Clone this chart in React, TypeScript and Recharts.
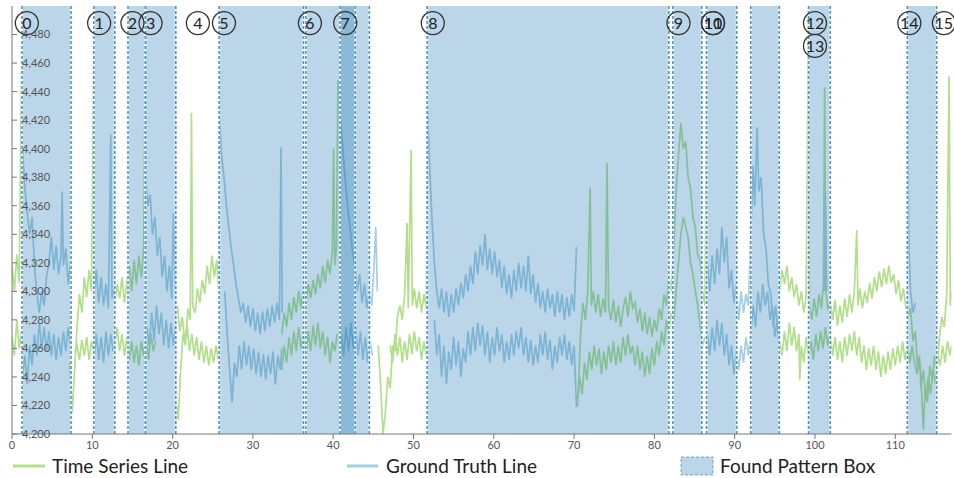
import React from 'react'
import { LineChart, Line, XAxis, YAxis, ReferenceArea, ReferenceDot } from 'recharts'

type Pt = [number, number | null]

// Time series (green) – upper and lower strands
const timeSeriesUpper: Pt[] = [
  [0, 4318], [0.3, 4300], [0.6, 4326], [0.9, 4306], [1.25, 4486], [1.3, null],
  [7.2, 4250], [7.5, 4215], [7.8, 4245], [8.1, 4275], [8.4, 4298], [8.7, 4285], [9, 4310], [9.3, 4296], [9.6, 4315], [9.9, 4300], [10.2, 4476], [10.3, null],
  [12.8, 4290], [13.1, 4305], [13.4, 4295], [13.7, 4310], [14, 4292], [14.3, 4306], [14.6, 4318], [14.9, 4300], [15.2, 4322], [15.5, 4305], [15.8, 4325], [16.1, 4310], [16.4, 4330], [16.6, 4452], [16.7, null],
  [20.4, 4225], [20.7, 4210], [21, 4245], [21.3, 4270], [21.6, 4262], [21.9, 4288], [22.2, 4280], [22.35, 4425], [22.5, 4290], [22.8, 4285], [23.1, 4302], [23.4, 4292], [23.7, 4308], [24, 4298], [24.3, 4318], [24.6, 4305], [24.9, 4325], [25.2, 4310], [25.5, 4322], [25.75, 4300], [25.85, 4455], [25.9, null],
  [33.6, 4270], [33.9, 4285], [34.2, 4275], [34.5, 4292], [34.8, 4280], [35.1, 4296], [35.4, 4285], [35.7, 4300], [36, 4288], [36.3, 4302], [36.6, 4290], [36.9, 4305], [37.2, 4295], [37.5, 4308], [37.8, 4298], [38.1, 4312], [38.4, 4302], [38.7, 4318], [39, 4306], [39.3, 4322], [39.6, 4312], [39.9, 4328], [40.05, 4400], [40.2, 4318], [40.4, 4330], [40.6, 4448], [40.7, null],
  [45.6, 4262], [45.9, 4235], [46.2, 4200], [46.5, 4215], [46.8, 4240], [47.1, 4232], [47.4, 4262], [47.7, 4258], [48, 4282], [48.3, 4290], [48.6, 4280], [48.9, 4298], [49.2, 4348], [49.35, 4288], [49.7, 4399], [49.85, 4290], [50.1, 4302], [50.4, 4288], [50.7, 4300], [51, 4285], [51.3, 4298], [51.6, 4288], [51.75, 4430], [51.8, null],
  [70.5, 4225], [70.8, 4270], [71.1, 4292], [71.4, 4280], [71.7, 4300], [72, 4373], [72.15, 4290], [72.4, 4300], [72.7, 4285], [73, 4298], [73.3, 4282], [73.6, 4295], [73.9, 4285], [74.1, 4390], [74.3, 4288], [74.6, 4280], [74.9, 4294], [75.2, 4278], [75.5, 4290], [75.8, 4275], [76.1, 4288], [76.4, 4296], [76.7, 4282], [77, 4300], [77.3, 4288], [77.6, 4292], [77.9, 4278], [78.2, 4288], [78.5, 4272], [78.8, 4285], [79.1, 4270], [79.4, 4282], [79.7, 4268], [80, 4280], [80.3, 4272], [80.6, 4288], [80.9, 4280], [81.2, 4298], [81.5, 4290], [81.8, 4310], [82.1, 4300], [82.4, 4330], [82.7, 4370], [83, 4395], [83.3, 4418], [83.6, 4400], [83.9, 4405], [84.2, 4380], [84.5, 4372], [84.8, 4352], [85.1, 4345], [85.4, 4325], [85.7, 4322], [86, 4300], [86.3, 4290], [86.5, 4444], [86.6, null],
  [95.6, 4300], [95.9, 4315], [96.2, 4305], [96.5, 4318], [96.8, 4300], [97.1, 4310], [97.4, 4296], [97.7, 4305], [98, 4290], [98.3, 4300], [98.6, 4285], [98.9, 4296], [99.2, 4499], [99.3, 4290], [99.6, 4280], [99.9, 4295], [100.2, 4282], [100.5, 4298], [100.8, 4288], [101.05, 4305], [101.2, 4443], [101.35, 4300], [101.6, 4288], [101.9, 4292],
  [102.2, 4280], [102.5, 4294], [102.8, 4276], [103.1, 4290], [103.4, 4278], [103.7, 4295], [104, 4282], [104.3, 4298], [104.6, 4285], [104.9, 4300], [105.2, 4343], [105.35, 4290], [105.6, 4302], [105.9, 4288], [106.2, 4300], [106.5, 4292], [106.8, 4306], [107.1, 4295], [107.4, 4310], [107.7, 4300], [108, 4314], [108.3, 4303], [108.6, 4316], [108.9, 4305], [109.2, 4318], [109.5, 4306], [109.8, 4312], [110.1, 4298], [110.4, 4308], [110.7, 4293], [111, 4302], [111.3, 4290],
  [111.6, 4282], [111.9, 4288], [112.2, 4265], [112.5, 4272], [112.8, 4245], [113.1, 4250], [113.5, 4203], [113.7, 4230], [114, 4222], [114.3, 4248], [114.6, 4238], [114.9, 4255], [115.2, 4245], [115.5, 4268], [115.8, 4282], [116.1, 4275], [116.4, 4298], [116.7, 4451], [116.85, 4290], [117, 4300],
]

const timeSeriesLower: Pt[] = [
  [0, 4268], [0.3, 4255], [0.6, 4280], [0.9, 4260], [1.2, 4272], [1.3, null],
  [7.8, 4258], [8.1, 4262], [8.4, 4252], [8.7, 4266], [9, 4255], [9.3, 4268], [9.6, 4252], [9.9, 4265], [10.15, 4258], [10.2, null],
  [12.8, 4262], [13.1, 4275], [13.4, 4258], [13.7, 4270], [14, 4255], [14.3, 4268], [14.6, 4252], [14.9, 4265], [15.2, 4250], [15.5, 4262], [15.8, 4248], [16.1, 4265], [16.4, 4255], [16.7, 4268], [17, 4252], [17.3, 4270], [17.6, 4258], [17.9, 4265], [18, null],
  [20.6, 4290], [20.9, 4272], [21.2, 4282], [21.5, 4265], [21.8, 4276], [22.1, 4258], [22.4, 4270], [22.7, 4255], [23, 4268], [23.3, 4252], [23.6, 4265], [23.9, 4250], [24.2, 4262], [24.5, 4248], [24.8, 4260], [25.1, 4250], [25.4, 4262], [25.7, 4252], [25.8, null],
  [33.6, 4245], [33.9, 4262], [34.2, 4250], [34.5, 4268], [34.8, 4255], [35.1, 4272], [35.4, 4258], [35.7, 4275], [36, 4260], [36.3, 4270], [36.6, 4255], [36.9, 4272], [37.2, 4258], [37.5, 4276], [37.8, 4262], [38.1, 4278], [38.4, 4260], [38.7, 4272], [39, 4255], [39.3, 4268], [39.6, 4250], [39.9, 4265], [40.2, 4258], [40.5, 4270], [40.6, null],
  [47.1, 4262], [47.4, 4250], [47.7, 4270], [48, 4255], [48.3, 4268], [48.6, 4250], [48.9, 4265], [49.2, 4252], [49.5, 4270], [49.8, 4256], [50.1, 4272], [50.4, 4258], [50.7, 4268], [51, 4252], [51.3, 4265], [51.6, 4255], [51.7, null],
  [70.4, 4219], [70.7, 4240], [71, 4228], [71.3, 4250], [71.6, 4238], [71.9, 4258], [72.2, 4245], [72.5, 4262], [72.8, 4248], [73.1, 4260], [73.4, 4242], [73.7, 4258], [74, 4245], [74.3, 4262], [74.6, 4250], [74.9, 4265], [75.2, 4248], [75.5, 4262], [75.8, 4250], [76.1, 4268], [76.4, 4255], [76.7, 4270], [77, 4256], [77.3, 4262], [77.6, 4248], [77.9, 4262], [78.2, 4245], [78.5, 4258], [78.8, 4240], [79.1, 4255], [79.4, 4242], [79.7, 4260], [80, 4248], [80.3, 4265], [80.6, 4255], [80.9, 4272], [81.2, 4262], [81.5, 4280], [81.8, 4270], [82.1, 4285], [82.4, 4280], [82.7, 4300], [83, 4320], [83.3, 4340], [83.6, 4352], [83.9, 4345], [84.2, 4338], [84.5, 4320], [84.8, 4312], [85.1, 4300], [85.4, 4290], [85.7, 4275], [86, 4262], [86.3, 4268], [86.4, null],
  [95.6, 4265], [95.9, 4255], [96.2, 4272], [96.5, 4258], [96.8, 4278], [97.1, 4262], [97.4, 4275], [97.7, 4258], [98, 4270], [98.1, 4238], [98.3, 4262], [98.6, 4250], [98.9, 4268], [99.2, 4255], [99.5, 4265], [99.8, 4252], [100.1, 4270], [100.4, 4258], [100.7, 4272], [101, 4260], [101.3, 4275], [101.6, 4262], [101.9, 4270],
  [102.2, 4255], [102.5, 4268], [102.8, 4252], [103.1, 4265], [103.4, 4250], [103.7, 4268], [104, 4255], [104.3, 4270], [104.6, 4258], [104.9, 4272], [105.2, 4255], [105.5, 4268], [105.8, 4250], [106.1, 4262], [106.4, 4245], [106.7, 4260], [107, 4248], [107.3, 4262], [107.6, 4245], [107.9, 4258], [108.2, 4240], [108.5, 4255], [108.8, 4242], [109.1, 4258], [109.4, 4245], [109.7, 4260], [110, 4248], [110.3, 4262], [110.6, 4250], [110.9, 4265], [111.2, 4252], [111.5, 4262],
  [111.8, 4250], [112.1, 4262], [112.4, 4250], [112.7, 4242], [113, 4255], [113.2, 4232], [113.5, 4245], [113.8, 4225], [114.1, 4240], [114.4, 4228], [114.7, 4245], [115, 4235], [115.3, 4255], [115.6, 4248], [115.9, 4262], [116.2, 4250], [116.5, 4265], [116.8, 4255], [117, 4262],
]

// Ground truth (blue) – upper and lower strands
const groundTruthUpper: Pt[] = [
  [1.3, 4400], [1.6, 4372], [1.9, 4355], [2.2, 4340], [2.5, 4352], [2.8, 4318], [3.1, 4298], [3.4, 4285], [3.7, 4300], [4, 4290], [4.3, 4310], [4.6, 4320], [4.9, 4338], [5.2, 4315], [5.5, 4332], [5.8, 4312], [6.1, 4325], [6.25, 4370], [6.4, 4318], [6.7, 4330], [7, 4305], [7.3, 4320], [7.35, null],
  [10.25, 4300], [10.5, 4315], [10.8, 4292], [11.1, 4310], [11.4, 4290], [11.7, 4305], [12, 4288], [12.3, 4410], [12.45, 4295], [12.75, 4302], [12.8, null],
  [16.65, 4380], [16.9, 4360], [17.2, 4368], [17.5, 4340], [17.8, 4352], [18.1, 4325], [18.4, 4338], [18.7, 4310], [19, 4325], [19.3, 4300], [19.6, 4318], [19.9, 4295], [20.1, 4355], [20.35, 4300], [20.4, null],
  [25.85, 4420], [26.1, 4395], [26.4, 4380], [26.7, 4360], [27, 4345], [27.3, 4330], [27.6, 4318], [27.9, 4305], [28.2, 4295], [28.5, 4285], [28.8, 4292], [29.1, 4278], [29.4, 4290], [29.7, 4275], [30, 4288], [30.3, 4272], [30.6, 4285], [30.9, 4270], [31.2, 4286], [31.5, 4272], [31.8, 4288], [32.1, 4275], [32.4, 4290], [32.7, 4278], [33, 4292], [33.3, 4280], [33.5, 4401], [33.65, 4285], [33.7, null],
  [40.65, 4448], [40.9, 4420], [41.2, 4400], [41.5, 4378], [41.8, 4360], [42.1, 4345], [42.4, 4328], [42.7, 4318], [43, 4300], [43.3, 4312], [43.6, 4292], [43.9, 4305], [44.2, 4288], [44.5, 4300], [44.8, 4290], [45.1, 4320], [45.3, 4345], [45.5, 4300], [45.6, null],
  [51.75, 4425], [52, 4390], [52.3, 4350], [52.6, 4320], [52.9, 4300], [53.2, 4288], [53.5, 4302], [53.8, 4285], [54.1, 4300], [54.4, 4282], [54.7, 4298], [55, 4285], [55.3, 4302], [55.6, 4290], [55.9, 4306], [56.2, 4295], [56.5, 4312], [56.8, 4300], [57.1, 4318], [57.4, 4305], [57.7, 4328], [58, 4312], [58.3, 4332], [58.6, 4318], [58.9, 4340], [59.2, 4315], [59.5, 4330], [59.8, 4312], [60.1, 4328], [60.4, 4310], [60.7, 4322], [61, 4302], [61.3, 4318], [61.6, 4298], [61.9, 4312], [62.2, 4295], [62.5, 4315], [62.8, 4300], [63.1, 4320], [63.4, 4302], [63.7, 4318], [64, 4300], [64.3, 4325], [64.6, 4298], [64.9, 4312], [65.2, 4292], [65.5, 4306], [65.8, 4288], [66.1, 4300], [66.4, 4285], [66.7, 4302], [67, 4288], [67.3, 4298], [67.6, 4282], [67.9, 4300], [68.2, 4285], [68.5, 4298], [68.8, 4280], [69.1, 4296], [69.4, 4282], [69.7, 4298], [70, 4286], [70.3, 4331], [70.4, null],
  [86.6, 4320], [86.9, 4300], [87.2, 4325], [87.5, 4305], [87.8, 4330], [88.1, 4312], [88.4, 4345], [88.7, 4320], [89, 4338], [89.3, 4302], [89.6, 4315], [89.9, 4292], [90.2, 4305], [90.5, 4280], [90.8, 4300], [91.1, 4285], [91.4, 4298], [91.7, 4290],
  [92, 4340], [92.3, 4388], [92.5, 4360], [92.8, 4415], [93, 4370], [93.3, 4380], [93.6, 4340], [93.9, 4330], [94.2, 4305], [94.5, 4298], [94.8, 4275], [95.1, 4290], [95.4, 4270], [95.5, null],
  [101.15, 4300], [101.3, 4369], [101.45, 4300], [101.5, null],
  [111.5, 4439], [111.7, 4330], [111.9, 4300], [112.2, 4285], [112.5, 4292],
]

const groundTruthLower: Pt[] = [
  [1.3, 4240], [1.6, 4255], [1.9, 4235], [2.2, 4262], [2.5, 4248], [2.8, 4270], [3.1, 4255], [3.4, 4278], [3.7, 4260], [4, 4275], [4.3, 4258], [4.6, 4272], [4.9, 4255], [5.2, 4270], [5.5, 4252], [5.8, 4268], [6.1, 4255], [6.4, 4272], [6.7, 4258], [7, 4275], [7.3, 4262], [7.35, null],
  [10.25, 4255], [10.5, 4270], [10.8, 4252], [11.1, 4268], [11.4, 4250], [11.7, 4272], [12, 4255], [12.3, 4270], [12.6, 4258], [12.8, null],
  [16.8, 4275], [17.1, 4262], [17.4, 4285], [17.7, 4265], [18, 4290], [18.3, 4270], [18.6, 4285], [18.9, 4262], [19.2, 4280], [19.5, 4260], [19.8, 4278], [20.1, 4262], [20.35, 4275], [20.4, null],
  [26.5, 4300], [26.8, 4270], [27.1, 4245], [27.4, 4222], [27.7, 4250], [28, 4240], [28.3, 4262], [28.6, 4245], [28.9, 4265], [29.2, 4248], [29.5, 4262], [29.8, 4245], [30.1, 4260], [30.4, 4242], [30.7, 4258], [31, 4240], [31.3, 4256], [31.6, 4238], [31.9, 4255], [32.2, 4242], [32.5, 4258], [32.8, 4235], [33.1, 4255], [33.4, 4245], [33.6, 4260], [33.7, null],
  [41, 4270], [41.3, 4255], [41.6, 4275], [41.9, 4258], [42.2, 4278], [42.5, 4260], [42.8, 4275], [43.1, 4255], [43.4, 4272], [43.7, 4252], [44, 4268], [44.3, 4250], [44.6, 4265], [44.9, 4255], [45, null],
  [52.6, 4280], [52.9, 4255], [53.2, 4270], [53.5, 4240], [53.8, 4262], [54.1, 4235], [54.4, 4258], [54.7, 4245], [55, 4268], [55.3, 4248], [55.6, 4265], [55.9, 4240], [56.2, 4260], [56.5, 4250], [56.8, 4272], [57.1, 4255], [57.4, 4275], [57.7, 4258], [58, 4278], [58.3, 4262], [58.6, 4276], [58.9, 4255], [59.2, 4272], [59.5, 4250], [59.8, 4268], [60.1, 4255], [60.4, 4275], [60.7, 4258], [61, 4270], [61.3, 4250], [61.6, 4265], [61.9, 4252], [62.2, 4270], [62.5, 4255], [62.8, 4272], [63.1, 4260], [63.4, 4275], [63.7, 4255], [64, 4268], [64.3, 4250], [64.6, 4266], [64.9, 4248], [65.2, 4262], [65.5, 4250], [65.8, 4270], [66.1, 4255], [66.4, 4272], [66.7, 4252], [67, 4266], [67.3, 4245], [67.6, 4262], [67.9, 4250], [68.2, 4268], [68.5, 4255], [68.8, 4270], [69.1, 4252], [69.4, 4265], [69.7, 4248], [70, 4262], [70.3, 4219], [70.4, null],
  [86.6, 4270], [86.9, 4255], [87.2, 4275], [87.5, 4258], [87.8, 4280], [88.1, 4262], [88.4, 4278], [88.7, 4255], [89, 4270], [89.3, 4248], [89.6, 4262], [89.9, 4242], [90.2, 4258], [90.5, 4245], [90.8, 4262], [91.1, 4250], [91.4, 4268], [91.7, 4255],
  [92, 4270], [92.3, 4290], [92.6, 4275], [92.9, 4300], [93.2, 4285], [93.5, 4305], [93.8, 4290], [94.1, 4300], [94.4, 4280], [94.7, 4290], [95, 4268], [95.3, 4280], [95.5, 4262], [95.55, null],
]

// found pattern boxes [start, end]
const patternBoxes: [number, number][] = [
  [1.25, 7.35], [10.2, 12.8], [14.45, 16.65], [16.6, 20.4], [25.8, 36.3], [36.6, 44.5], [40.85, 42.75],
  [51.7, 81.8], [82.3, 85.9], [86.5, 90.25], [92.0, 95.55], [99.2, 101.9], [111.5, 115.15],
]

// numbered pattern markers
const markerText = ['0', '1', '2', '3', '4', '5', '6', '7', '8', '9', '10', '11', '12', '13', '14', '15']
const markerX = [1.85, 10.85, 15.0, 17.25, 23.15, 26.4, 37.1, 41.5, 52.4, 83.0, 87.3, 87.3, 100.0, 100.0, 111.75, 116.05]
const markerRow = [0, 0, 0, 0, 0, 0, 0, 0, 0, 0, 0, 0, 0, 1, 0, 0]
const markerRowY = [4488, 4472]

const xTicks = [0, 10, 20, 30, 40, 50, 60, 70, 80, 90, 100, 110]
const yTicks = [4200, 4220, 4240, 4260, 4280, 4300, 4320, 4340, 4360, 4380, 4400, 4420, 4440, 4460, 4480]

const GREEN = '#b2df8a'
const BLUE = '#a6cee3'
const BOX = '#1f78b4'

const toRows = (pts: Pt[]) => pts.map(([x, y]) => ({ x, y }))

const PatternBox = (props: any) => {
  const { x, y, width, height } = props
  return (
    <g>
      <rect x={x} y={y} width={width} height={height} fill={BOX} fillOpacity={0.3} />
      {[x, x + width].map((lx: number, i: number) => (
        <g key={i}>
          <line x1={lx} x2={lx} y1={y} y2={y + height} stroke='#fff' strokeWidth={2} />
          <line x1={lx} x2={lx} y1={y} y2={y + height} stroke={BOX} strokeWidth={1.6} strokeDasharray='3 2' strokeOpacity={0.8} />
        </g>
      ))}
    </g>
  )
}

const Marker = (text: string) => (props: any) => (
  <g>
    <circle cx={props.cx} cy={props.cy} r={11.5} fill='none' stroke='#333' strokeWidth={1.3} />
    <text x={props.cx} y={props.cy} dy='0.36em' textAnchor='middle' fontSize={16} fill='#222' fontFamily='Lato, sans-serif'>
      {text}
    </text>
  </g>
)

const YTick = (props: any) => {
  const { x, y, payload } = props
  return (
    <g>
      <line x1={12} x2={17} y1={y} y2={y} stroke='#777' />
      <text x={22} y={y} dy='0.36em' fontSize={11} fill='#555' textAnchor='start'>
        {Number(payload.value).toLocaleString('en-US')}
      </text>
    </g>
  )
}

const lineProps = {
  dataKey: 'y',
  dot: false,
  activeDot: false,
  strokeWidth: 1.7,
  isAnimationActive: false,
  connectNulls: false,
} as const

const App = () => {
  return (
    <div style={{ position: 'absolute', left: 0, top: 0, width: 954, height: 478, fontFamily: 'Lato, sans-serif' }}>
      <LineChart width={954} height={478} margin={{ top: 6, right: 2.5, bottom: 24, left: 0 }}>
        <XAxis
          type='number'
          dataKey='x'
          domain={[0, 117]}
          ticks={xTicks}
          allowDataOverflow
          height={20}
          tickSize={5}
          stroke='#777'
          tick={{ fontSize: 11, fill: '#555' }}
        />
        <YAxis
          type='number'
          domain={[4200, 4500]}
          ticks={yTicks}
          allowDataOverflow
          width={12}
          tickLine={false}
          stroke='#777'
          tick={YTick}
        />
        <Line {...lineProps} data={toRows(timeSeriesUpper)} stroke={GREEN} />
        <Line {...lineProps} data={toRows(timeSeriesLower)} stroke={GREEN} />
        <Line {...lineProps} data={toRows(groundTruthUpper)} stroke={BLUE} />
        <Line {...lineProps} data={toRows(groundTruthLower)} stroke={BLUE} />
        {patternBoxes.map(([x1, x2], i) => (
          <ReferenceArea key={'b' + i} x1={x1} x2={x2} shape={PatternBox} zIndex={450} />
        ))}
        {markerText.map((t, i) => (
          <ReferenceDot
            key={'m' + i}
            x={markerX[i]}
            y={markerRowY[markerRow[i]]}
            r={11}
            shape={Marker(t)}
            zIndex={460}
          />
        ))}
      </LineChart>
      <svg width={954} height={24} style={{ position: 'absolute', left: 0, top: 454 }}>
        <line x1={13} x2={45} y1={12} y2={12} stroke={GREEN} strokeWidth={3} />
        <text x={52} y={12} dy='0.36em' fontSize={19} fill='#222'>Time Series Line</text>
        <line x1={347} x2={378} y1={12} y2={12} stroke={BLUE} strokeWidth={3} />
        <text x={386} y={12} dy='0.36em' fontSize={19} fill='#222'>Ground Truth Line</text>
        <rect x={681} y={3} width={32} height={18} fill={BOX} fillOpacity={0.3} stroke={BOX} strokeOpacity={0.6} strokeDasharray='3 2' />
        <text x={720} y={12} dy='0.36em' fontSize={19} fill='#222'>Found Pattern Box</text>
      </svg>
    </div>
  )
}

export default App
